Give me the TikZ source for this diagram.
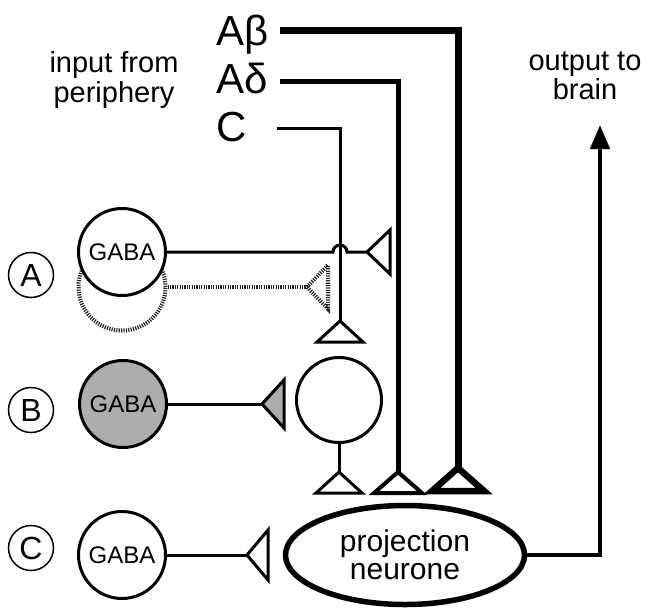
\documentclass[tikz,border=0pt]{standalone}
\usepackage{fontspec}
\setmainfont{Liberation Sans}
\usetikzlibrary{arrows.meta,shapes.geometric}
\definecolor{gabagray}{gray}{0.68}
\begin{document}
\begin{tikzpicture}[x=1pt,y=-1pt,
  lab/.style={circle,draw,line width=1.5pt,minimum size=45pt,inner sep=0pt,font=\fontsize{32}{32}\selectfont},
  gaba/.style={circle,draw,line width=3pt,minimum size=87pt,inner sep=0pt,font=\fontsize{24}{24}\selectfont},
  fibre/.style={font=\fontsize{42}{42}\selectfont,anchor=base west,inner sep=0pt},
  caption/.style={align=center,font=\fontsize{29}{29}\selectfont,inner sep=0pt},
  wire/.style={line width=3pt},
  syn/.style={draw,line width=3pt,line join=miter,fill=white},
  dots/.style={line width=4pt,dash pattern=on 1.2pt off 1.2pt,color=black!85}
]
\useasboundingbox (0,0) rectangle (650,608);

% labels
\node[caption] (inp) at (114,80) {input from\\periphery};
\node[caption] (out) at (585,76) {output to\\brain};
\node[fibre] (Ab) at (216,45) {Aβ};
\node[fibre] (Ad) at (216,93) {Aδ};
\node[fibre] (Cf) at (216,141) {C};

\node[lab] (lA) at (31,275) {A};
\node[lab] (lB) at (31,410) {B};
\node[lab] (lC) at (31,548) {C};

% fibre start points and synapse apexes
\coordinate (abS) at (280,30);
\coordinate (adS) at (280,81);
\coordinate (cS) at (277,128);
\coordinate (tAb) at (458,468);
\coordinate (tAd) at (398,472);
\coordinate (tCf) at (340,321);
\coordinate (tA) at (367,252);
\coordinate (tAdot) at (307,287);
\coordinate (tB) at (262,404);
\coordinate (tI) at (339,472);
\coordinate (tC) at (247,555);
\coordinate (outT) at (600,125);

% dotted (alternative) GABA cell in A
\node[circle,minimum size=87pt,inner sep=0pt,draw,dots] (gAd) at (122,287) {};
\draw[dots] (gAd.east) -- (tAdot);
\draw[dots] (tAdot) -- ++(21,-22) -- ++(0,44) -- cycle;

% GABA cells
\node[gaba,fill=white] (gA) at (122,252) {GABA};
\node[gaba,fill=gabagray] (gB) at (123,404) {GABA};
\node[gaba] (gC) at (122,555) {GABA};

% interneurone and projection neurone
\node[circle,draw,line width=3pt,minimum size=85pt,inner sep=0pt] (inter) at (339,400) {};
\node[ellipse,draw,line width=5.5pt,minimum width=239pt,minimum height=99pt,inner sep=0pt,
      align=center,font=\fontsize{30}{28}\selectfont] (proj) at (405,555) {projection\\neurone};

% primary afferents
\draw[line width=7pt] (abS) -| (tAb);
\draw[line width=5pt] (adS) -| (tAd);
\draw[wire] (cS) -| (tCf);

% GABA connections
\draw[wire] (gA.east) -- (333,252) arc[start angle=180,end angle=0,radius=7pt] -- (tA);
\draw[wire] (gB.east) -- (tB);
\draw[wire] (inter.south) -- (tI);
\draw[wire] (gC.east) -- (tC);

% synaptic terminals
\draw[syn] (tA) -- ++(23,-22) -- ++(0,44) -- cycle;
\draw[syn] (tCf) -- ++(-23,21) -- ++(46,0) -- cycle;
\draw[syn,fill=gabagray] (tB) -- ++(22,-24) -- ++(0,48) -- cycle;
\draw[syn] (tI) -- ++(-23,21) -- ++(46,0) -- cycle;
\draw[syn,line width=4pt] (tAd) -- ++(-24,21) -- ++(48,0) -- cycle;
\draw[syn,line width=6.5pt] (tAb) -- ++(-26,23) -- ++(52,0) -- cycle;
\draw[syn] (tC) -- ++(21,-25) -- ++(0,50) -- cycle;

% output
\draw[line width=4.5pt,-{Triangle[length=24pt,width=19pt]}] (proj.east) -| (outT);
\end{tikzpicture}
\end{document}
